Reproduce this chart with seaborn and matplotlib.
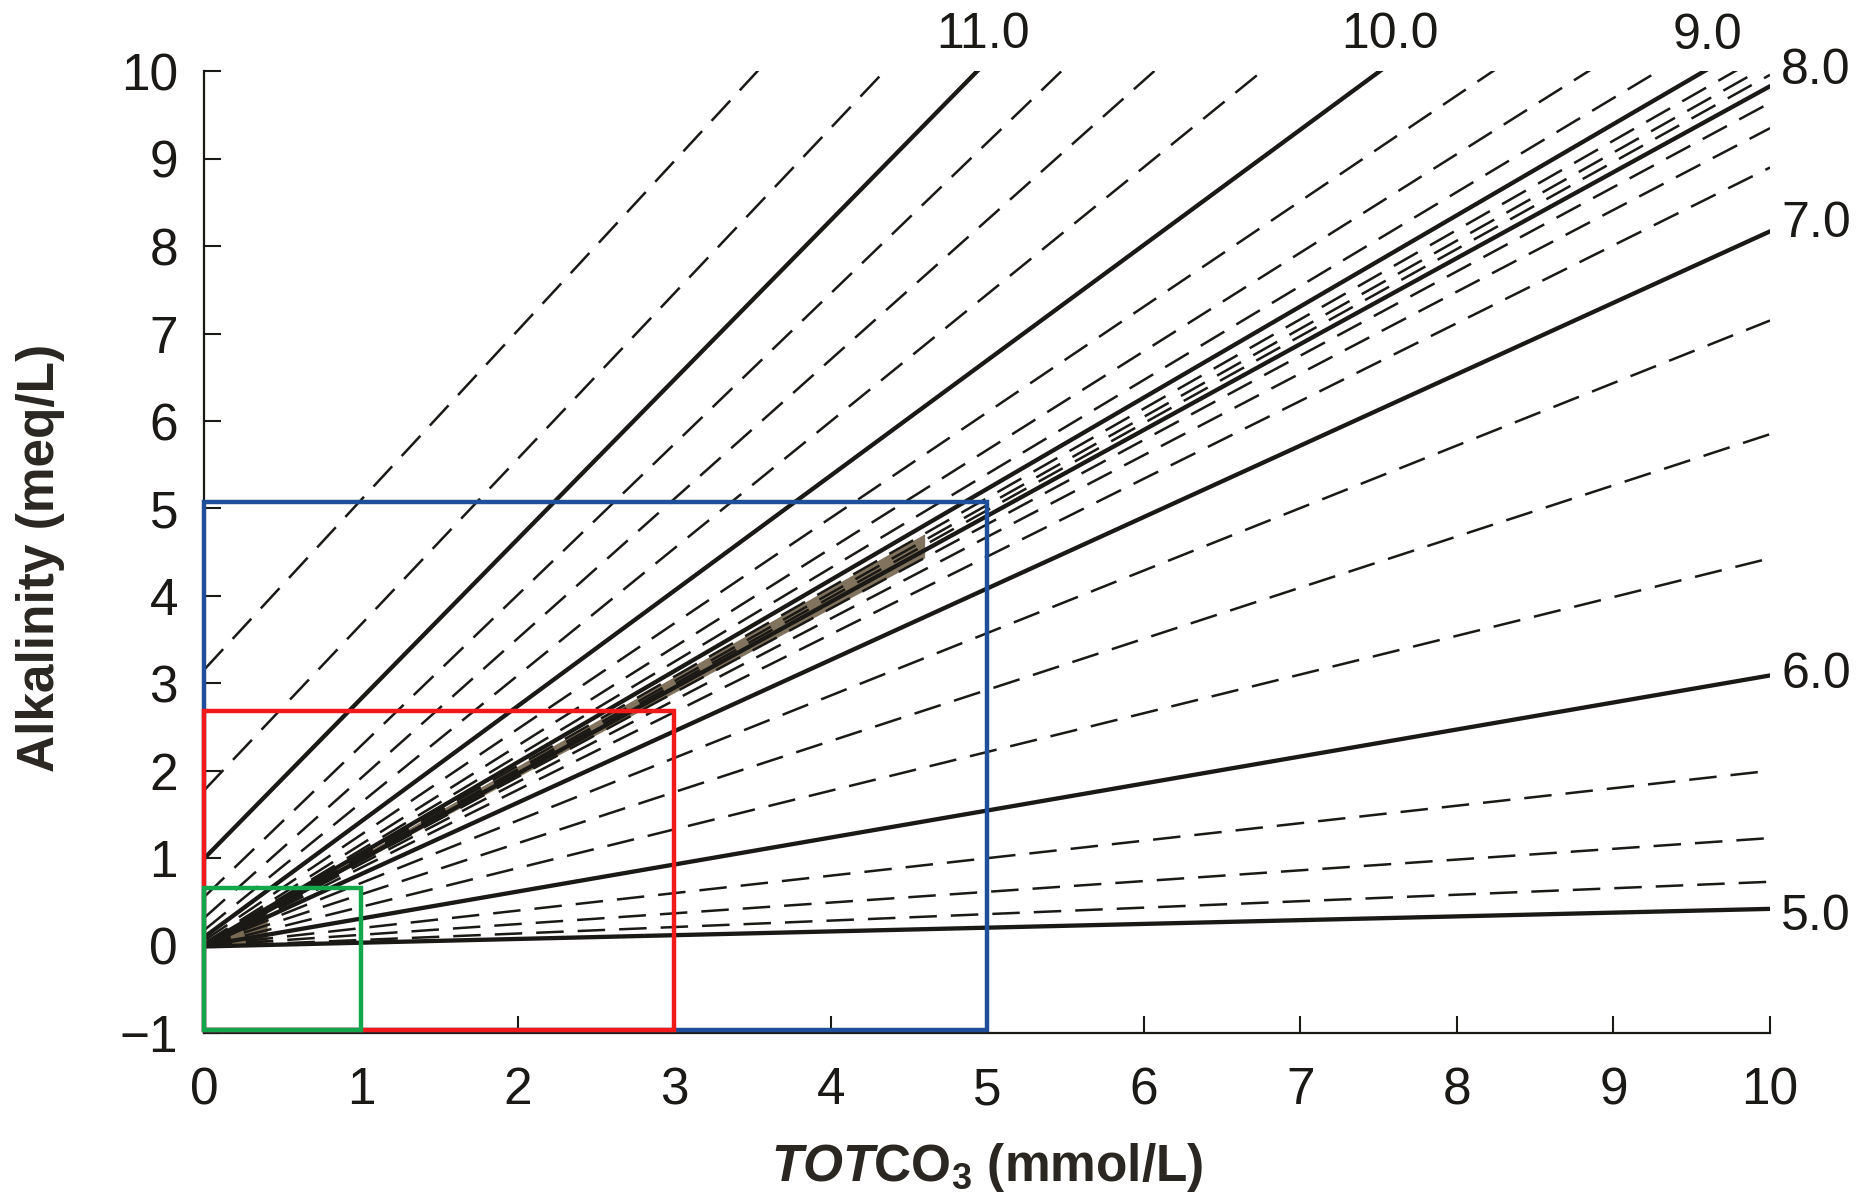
import numpy as np
import pandas as pd
import matplotlib
matplotlib.use("Agg")
import matplotlib.pyplot as plt
import matplotlib.patches as mpatches
import seaborn as sns

# ------------------------------------------
# Daten: pH-Isolinien (Alkalinität bei TOTCO3 = 0 und = 10 mmol/L)
# ------------------------------------------
ph_values = [5.0, 5.25, 5.5, 5.75, 6.0, 6.25, 6.5, 6.75, 7.0, 7.25, 7.5, 7.75,
             8.0, 8.25, 8.5, 8.75, 9.0, 9.25, 9.5, 9.75, 10.0, 10.25, 10.5,
             10.75, 11.0, 11.25, 11.5]
alk_at_0 = [-0.01, -0.01, 0.0, 0.0, 0.0, 0.0, 0.0, 0.0, 0.0, 0.0, 0.0, 0.0,
            0.0, 0.0, 0.0, 0.01, 0.01, 0.02, 0.03, 0.06, 0.10, 0.18, 0.32,
            0.56, 1.00, 1.78, 3.16]
alk_at_10 = [0.42, 0.73, 1.23, 2.00, 3.09, 4.43, 5.85, 7.15, 8.17, 8.90, 9.35,
             9.64, 9.83, 9.96, 10.08, 10.23, 10.44, 10.77, 11.31, 12.14, 13.29,
             14.72, 16.28, 17.81, 19.24, 20.71, 22.53]
totco3_ends = [0, 10]

# Beschriftungen der ganzzahligen pH-Linien
label_text = ["11.0", "10.0", "9.0", "8.0", "7.0", "6.0", "5.0"]
label_x = [4.97, 7.57, 9.6, 10.07, 10.07, 10.07, 10.07]
label_y = [10.42, 10.42, 10.4, 10.0, 8.25, 3.1, 0.33]

# Ausschnitt-Rahmen (x-Breite, obere Kante)
box_colors = ["#1f4f9a", "#f2191b", "#12a74b"]
box_width = [5, 3, 1]
box_top = [5.07, 2.68, 0.66]
box_bottom = -0.97

# ------------------------------------------
# Long-Format Tabelle
# ------------------------------------------
rows = []
for ph, a0, a10 in zip(ph_values, alk_at_0, alk_at_10):
    kind = "major" if float(ph).is_integer() else "minor"
    rows.append((ph, totco3_ends[0], a0, kind))
    rows.append((ph, totco3_ends[1], a10, kind))
df = pd.DataFrame(rows, columns=["ph", "totco3", "alk", "kind"])

sns.set_style("ticks")
plt.rcParams["font.family"] = ["Liberation Sans", "DejaVu Sans"]
plt.rcParams["mathtext.fontset"] = "custom"
plt.rcParams["mathtext.rm"] = "Liberation Sans:bold"
plt.rcParams["mathtext.it"] = "Liberation Sans:bold:italic"
plt.rcParams["mathtext.bf"] = "Liberation Sans:bold"

fig = plt.figure(figsize=(18.64, 12.03), dpi=100)
ax = fig.add_axes([0.1097, 0.1413, 0.8399, 0.7994])

ink = "#1b1915"
shade = "#6b5a41"


def line_y(idx, xs):
    return np.interp(xs, totco3_ends, [alk_at_0[idx], alk_at_10[idx]])


# Brauner Scan-Schatten im dichten Linienbündel
xs = np.linspace(0, 4.6, 60)
ax.fill_between(xs, line_y(11, xs), line_y(15, xs), color=shade, alpha=0.85,
                linewidth=0, zorder=1)
xs0 = np.linspace(0, 0.4, 20)
ax.fill_between(xs0, line_y(1, xs0), line_y(12, xs0), color=shade, alpha=0.9,
                linewidth=0, zorder=1)

sns.lineplot(data=df, x="totco3", y="alk", units="ph", estimator=None,
             style="kind", style_order=["major", "minor"],
             dashes={"major": "", "minor": (11, 5.6)},
             size="kind", sizes={"major": 3.1, "minor": 1.8},
             color=ink, legend=False, sort=False, ax=ax, zorder=2)

for txt, lx, ly in zip(label_text, label_x, label_y):
    ha = "center" if lx <= 10 else "left"
    ax.text(lx, ly, txt, ha=ha, va="center", fontsize=36, color=ink, clip_on=False)

for c, w, t in zip(box_colors, box_width, box_top):
    ax.add_patch(mpatches.Rectangle((0, box_bottom), w, t - box_bottom, fill=False,
                                    edgecolor=c, linewidth=3.2, zorder=5, clip_on=False))

ax.set_xlim(0, 10)
ax.set_ylim(-1, 10)
ax.set_xticks(range(0, 11))
ax.set_yticks(range(-1, 11))
ax.set_yticklabels(["\u22121"] + [str(i) for i in range(0, 11)])
sns.despine(ax=ax)
for s in ["left", "bottom"]:
    ax.spines[s].set_linewidth(1.6)
    ax.spines[s].set_color(ink)
ax.tick_params(axis="both", direction="in", length=12, width=1.5, color=ink,
               labelsize=37, labelcolor=ink)
ax.tick_params(axis="y", pad=19)
ax.tick_params(axis="x", pad=24)

ax.set_xlabel(r"$\mathit{TOT}$CO$_3$ (mmol/L)", fontsize=37, fontweight="bold", color="#2a2722")
ax.set_ylabel("Alkalinity (meq/L)", fontsize=37, fontweight="bold", color="#2a2722")
ax.xaxis.set_label_coords(0.5, -0.112)
ax.yaxis.set_label_coords(-0.089, 0.4945)
ax.grid(False)

fig.savefig("out.png", dpi=100)
